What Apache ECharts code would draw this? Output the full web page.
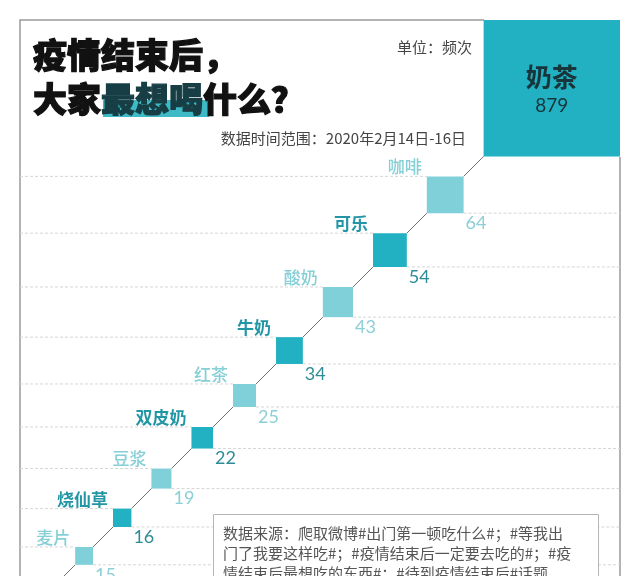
<!DOCTYPE html>
<html>
<head>
<meta charset="utf-8">
<title>疫情结束后，大家最想喝什么？</title>
<script src="https://cdn.jsdelivr.net/npm/echarts@6/dist/echarts.min.js"></script>
<style>
  html, body { margin: 0; padding: 0; background: #fff; }
  #main { width: 640px; height: 576px; }
</style>
</head>
<body>
<div id="main"></div>
<script>
// 饮品名称与频次（单位：频次）
var drinks = ['奶茶', '咖啡', '可乐', '酸奶', '牛奶', '红茶', '双皮奶', '豆浆', '烧仙草', '麦片'];
var counts = [879, 64, 54, 43, 34, 25, 22, 19, 16, 15];
// 深浅两种色调交替
var tones = ['dark', 'light', 'dark', 'light', 'dark', 'light', 'dark', 'light', 'dark', 'light'];

var SCALE = 4.6;   // 方块边长 = SCALE * sqrt(频次)，面积和频次成正比
var GAP = 20;      // 相邻方块之间的斜向间距
var START = [620, 20]; // 第一个方块的右上角
var FONT = '"Noto Sans CJK SC", sans-serif';

// 把方块一个接一个沿对角线排下去
var chainData = [];
var cx = START[0], cy = START[1];
counts.forEach(function (v, i) {
  var side = SCALE * Math.sqrt(v);
  chainData.push([cx, cy, side, v, i]);
  cx = cx - side - GAP;
  cy = cy + side + GAP;
});

var colors = {
  dark: { fill: '#22b1c2', name: '#2396a5', value: '#2e8c96' },
  light: { fill: '#80d0da', name: '#86cfd6', value: '#8ccfd4' }
};

function renderItem(params, api) {
  var i = api.value(4);
  var xr = api.value(0), yt = api.value(1), side = api.value(2);
  var tl = api.coord([xr - side, yt]);
  var br = api.coord([xr, yt + side]);
  var c = colors[tones[i]];
  var children = [];

  if (i > 0) {
    // 虚线：上边往左，下边往右
    var leftEnd = api.coord([20, yt]);
    var rightEnd = api.coord([620, yt + side]);
    children.push({
      type: 'line',
      shape: { x1: leftEnd[0], y1: tl[1], x2: tl[0], y2: tl[1] },
      style: { stroke: '#d6d6d6', lineWidth: 1, lineDash: [3, 2] }
    });
    children.push({
      type: 'line',
      shape: { x1: br[0], y1: br[1], x2: rightEnd[0], y2: br[1] },
      style: { stroke: '#d6d6d6', lineWidth: 1, lineDash: [3, 2] }
    });
    // 连到上一个方块的左下角
    var prev = api.coord([xr + GAP, yt - GAP]);
    children.push({
      type: 'line',
      shape: { x1: br[0], y1: tl[1], x2: prev[0], y2: prev[1] },
      style: { stroke: '#6f6f6f', lineWidth: 1 }
    });
  }
  if (i === counts.length - 1) {
    var tail = api.coord([xr - side - 40, yt + side + 40]);
    children.push({
      type: 'line',
      shape: { x1: tl[0], y1: br[1], x2: tail[0], y2: tail[1] },
      style: { stroke: '#6f6f6f', lineWidth: 1 }
    });
  }

  children.push({
    type: 'rect',
    shape: { x: tl[0], y: tl[1], width: br[0] - tl[0], height: br[1] - tl[1] },
    style: { fill: c.fill }
  });

  if (i === 0) {
    var mid = (tl[0] + br[0]) / 2;
    children.push({
      type: 'text',
      style: {
        text: drinks[i], x: mid, y: tl[1] + 57, align: 'center', verticalAlign: 'middle',
        font: 'bold 26px ' + FONT, fill: '#17353b'
      }
    });
    children.push({
      type: 'text',
      style: {
        text: String(api.value(3)), x: mid, y: tl[1] + 86, align: 'center', verticalAlign: 'middle',
        font: '19px Lato, sans-serif', fill: '#17353b'
      }
    });
  } else {
    children.push({
      type: 'text',
      style: {
        text: drinks[i], x: tl[0] - 5, y: tl[1] - 1, align: 'right', verticalAlign: 'bottom',
        font: (tones[i] === 'dark' ? 'bold ' : '500 ') + '17px ' + FONT, fill: c.name
      }
    });
    children.push({
      type: 'text',
      style: {
        text: String(api.value(3)), x: br[0] + 2, y: br[1] + 1, align: 'left', verticalAlign: 'top',
        font: '18px Lato, sans-serif', fill: c.value
      }
    });
  }
  return { type: 'group', children: children };
}

var chart = echarts.init(document.getElementById('main'));
var option = {
  backgroundColor: '#fff',
  animation: false,
  grid: { left: 0, right: 0, top: 0, bottom: 0 },
  xAxis: { type: 'value', min: 0, max: 640, show: false },
  yAxis: { type: 'value', min: 0, max: 576, inverse: true, show: false },
  series: [{
    type: 'custom',
    renderItem: renderItem,
    data: chainData,
    clip: false
  }],
  graphic: [
    // 外框
    { type: 'polyline', shape: { points: [[20, 576], [20, 20], [484, 20]] }, style: { stroke: '#9a9a9a', lineWidth: 1.5, fill: null }, z: 1 },
    { type: 'line', shape: { x1: 620, y1: 157, x2: 620, y2: 576 }, style: { stroke: '#9a9a9a', lineWidth: 1.5 }, z: 1 },
    // 标题（描边加粗一点）
    { type: 'rect', shape: { x: 103, y: 100, width: 106, height: 17 }, style: { fill: '#3dbac6' }, z: 5 },
    {
      type: 'text', z: 6,
      style: {
        text: '疫情结束后，', x: 33, y: 55, verticalAlign: 'middle', font: '900 34px ' + FONT,
        fill: '#111', stroke: '#111', lineWidth: 1.2
      }
    },
    {
      type: 'text', z: 6,
      style: {
        text: '{n|大家}{h|最想喝}{n|什么？}', x: 33, y: 99, verticalAlign: 'middle',
        rich: {
          n: { font: '900 34px ' + FONT, fill: '#111', stroke: '#111', lineWidth: 1.2 },
          h: { font: '900 34px ' + FONT, fill: '#173e44', stroke: '#173e44', lineWidth: 1.2 }
        }
      }
    },
    {
      type: 'text', z: 6,
      style: { text: '单位：频次', x: 472, y: 47, align: 'right', verticalAlign: 'middle', font: '15px ' + FONT, fill: '#444' }
    },
    {
      type: 'text', z: 6,
      style: { text: '数据时间范围：2020年2月14日-16日', x: 466, y: 138, align: 'right', verticalAlign: 'middle', font: '15px ' + FONT, fill: '#444' }
    },
    // 数据来源
    { type: 'rect', shape: { x: 213.5, y: 514.5, width: 385, height: 80 }, style: { fill: '#fff', stroke: '#b5b5b5', lineWidth: 1 }, z: 10 },
    {
      type: 'text', z: 11,
      style: {
        text: '数据来源：爬取微博#出门第一顿吃什么#；#等我出\n门了我要这样吃#；#疫情结束后一定要去吃的#；#疫\n情结束后最想吃的东西#；#待到疫情结束后#话题。',
        x: 223, y: 523, lineHeight: 20, font: '15px ' + FONT, fill: '#555'
      }
    }
  ]
};
chart.setOption(option);
</script>
</body>
</html>
